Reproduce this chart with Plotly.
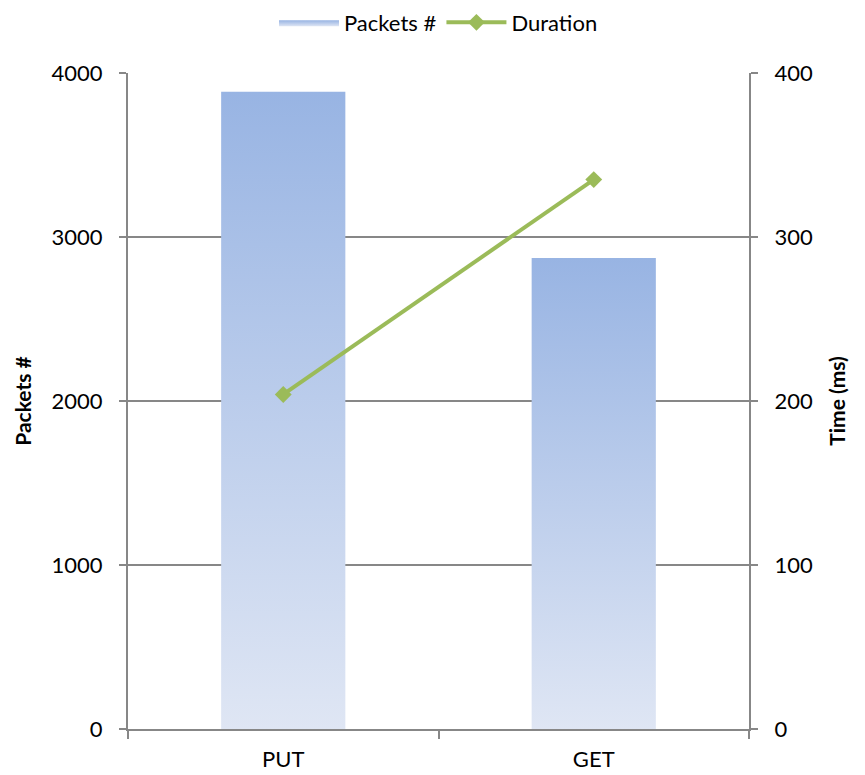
import plotly.graph_objects as go

# Data
categories = ["PUT", "GET"]
packets = [3885, 2872]
duration_ms = [204, 335]

bar_width = 0.40
bar_top = "#98B4E3"
bar_bottom = "#DFE6F4"
line_color = "#9BBB59"
grid_color = "#878787"
font_family = "Lato, 'Open Sans', 'Liberation Sans', sans-serif"

fig = go.Figure()

# Bars drawn as filled polygons so each can carry its own vertical gradient
for i, (cat, val) in enumerate(zip(categories, packets)):
    x0, x1 = i - bar_width / 2, i + bar_width / 2
    fig.add_trace(go.Scatter(
        x=[x0, x1, x1, x0, x0],
        y=[0, 0, val, val, 0],
        mode="lines",
        line=dict(width=0, color=bar_top),
        fill="toself",
        fillgradient=dict(
            type="vertical",
            colorscale=[[0, bar_bottom], [1, bar_top]],
        ),
        name="Packets #",
        legendgroup="packets",
        showlegend=(i == 0),
        hoverinfo="text",
        text=f"{cat}: {val}",
        yaxis="y",
    ))

fig.add_trace(go.Scatter(
    x=list(range(len(categories))),
    y=duration_ms,
    mode="lines+markers",
    line=dict(color=line_color, width=4),
    marker=dict(symbol="diamond", size=13, color=line_color),
    name="Duration",
    yaxis="y2",
))

axis_font = dict(family=font_family, size=22, color="#000000")
title_font = dict(family=font_family, size=21, color="#000000")

fig.update_layout(
    width=865,
    height=775,
    margin=dict(l=128, r=116, t=73, b=46),
    plot_bgcolor="white",
    paper_bgcolor="white",
    font=axis_font,
    showlegend=True,
    legend=dict(
        orientation="h",
        x=0.5, xanchor="center",
        y=0.998, yref="container", yanchor="top",
        font=dict(family=font_family, size=22),
        itemwidth=60,
    ),
    xaxis=dict(
        range=[-0.5, len(categories) - 0.5],
        tickmode="array",
        tickvals=list(range(len(categories))),
        ticktext=categories,
        ticks="",
        ticklabelstandoff=10,
        automargin=False,
        showgrid=False,
        zeroline=False,
        showline=True,
        linecolor=grid_color,
        linewidth=2,
        minor=dict(
            tickmode="array",
            tickvals=[-0.5, 0.5, 1.5],
            ticks="outside",
            ticklen=8,
            tickcolor=grid_color,
            tickwidth=2,
            showgrid=False,
        ),
        tickfont=axis_font,
        fixedrange=True,
    ),
    yaxis=dict(
        range=[0, 4000],
        tickvals=[0, 1000, 2000, 3000, 4000],
        showgrid=True,
        gridcolor=grid_color,
        gridwidth=2,
        zeroline=False,
        showline=True,
        linecolor=grid_color,
        linewidth=2,
        ticks="outside",
        ticklen=7,
        tickcolor=grid_color,
        tickwidth=2,
        ticklabelstandoff=12,
        tickfont=axis_font,
        title=dict(text="<b>Packets #</b>", font=title_font, standoff=14),
    ),
    yaxis2=dict(
        range=[0, 400],
        tickvals=[0, 100, 200, 300, 400],
        overlaying="y",
        side="right",
        showgrid=False,
        zeroline=False,
        showline=True,
        linecolor=grid_color,
        linewidth=2,
        ticks="outside",
        ticklen=7,
        tickcolor=grid_color,
        tickwidth=2,
        ticklabelstandoff=12,
        tickfont=axis_font,
        title=dict(text="<b>Time (ms)</b>", font=title_font, standoff=18),
    ),
)

fig.write_html("out.html")
